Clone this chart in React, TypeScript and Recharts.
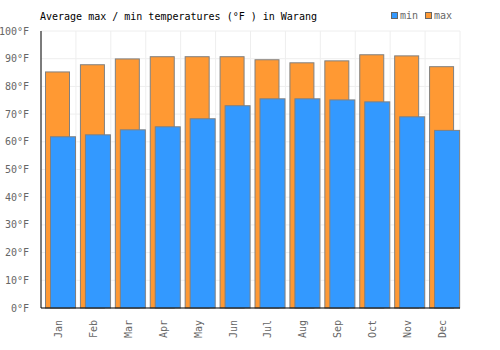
import React from "react";
import { BarChart, Bar, XAxis, YAxis, CartesianGrid } from "recharts";

const months = ["Jan", "Feb", "Mar", "Apr", "May", "Jun", "Jul", "Aug", "Sep", "Oct", "Nov", "Dec"];
const maxTemps = [85.4, 88.0, 90.1, 90.9, 90.9, 90.9, 89.8, 88.7, 89.4, 91.6, 91.2, 87.3];
const minTemps = [62.0, 62.7, 64.5, 65.6, 68.5, 73.2, 75.7, 75.7, 75.3, 74.6, 69.2, 64.3];
const yTicks = [0, 10, 20, 30, 40, 50, 60, 70, 80, 90, 100];

const data = months.map((month, i) => ({ month, max: maxTemps[i], min: minTemps[i] }));

const FONT = "'DejaVu Sans Mono', monospace";
const BLUE = "#3399ff";
const ORANGE = "#ff9933";
const EDGE = "#808080";

// nudge the overlapping pair so the blue bar sits flush with the right of its month
const ShiftedBar = (props: any) => {
  const { x, y, width, height, fill } = props;
  if (!height || height <= 0) return null;
  return (
    <rect x={x + 2.5} y={y + 0.5} width={width} height={height - 0.5} fill={fill} stroke={EDGE} strokeWidth={1} />
  );
};

const MonthTick = (props: any) => {
  const { x, y, payload } = props;
  return (
    <text
      x={x}
      y={y + 4}
      transform={`rotate(-90 ${x} ${y + 4})`}
      textAnchor="end"
      dominantBaseline="central"
      fontFamily={FONT}
      fontSize={10}
      fill="#666"
    >
      {payload.value}
    </text>
  );
};

export default function App() {
  return (
    <div style={{ position: "absolute", left: 0, top: 0, width: 500, height: 350, background: "#fff" }}>
      <BarChart
        width={500}
        height={350}
        data={data}
        margin={{ top: 31, right: 40, bottom: 0, left: 0 }}
        barGap={-19}
      >
        <text x={40} y={20} fontFamily={FONT} fontSize={10} fill="#000">
          Average max / min temperatures (°F ) in Warang
        </text>
        <rect x={391.5} y={12.5} width={6} height={6} fill={BLUE} stroke="#666" />
        <text x={400} y={19} fontFamily={FONT} fontSize={10} fill="#666">min</text>
        <rect x={425.5} y={12.5} width={6} height={6} fill={ORANGE} stroke="#666" />
        <text x={434} y={19} fontFamily={FONT} fontSize={10} fill="#666">max</text>
        <CartesianGrid
          stroke="#eeeeee"
          horizontal
          vertical
          verticalCoordinatesGenerator={({ offset }: any) =>
            months.map((_, i) => offset.left + ((i + 1) * offset.width) / months.length).concat(offset.left)
          }
        />
        <XAxis
          dataKey="month"
          height={42}
          axisLine={{ stroke: "#000" }}
          tickLine={false}
          interval={0}
          tick={<MonthTick />}
        />
        <YAxis
          width={41}
          domain={[0, 100]}
          ticks={yTicks}
          interval={0}
          axisLine={{ stroke: "#000" }}
          tickLine={false}
          tickMargin={6}
          tickFormatter={(v: number) => `${v}°F`}
          tick={{ fontFamily: FONT, fontSize: 10, fill: "#666" }}
        />
        <Bar dataKey="max" fill={ORANGE} barSize={24} shape={<ShiftedBar />} isAnimationActive={false} />
        <Bar dataKey="min" fill={BLUE} barSize={25} shape={<ShiftedBar />} isAnimationActive={false} />
      </BarChart>
    </div>
  );
}
